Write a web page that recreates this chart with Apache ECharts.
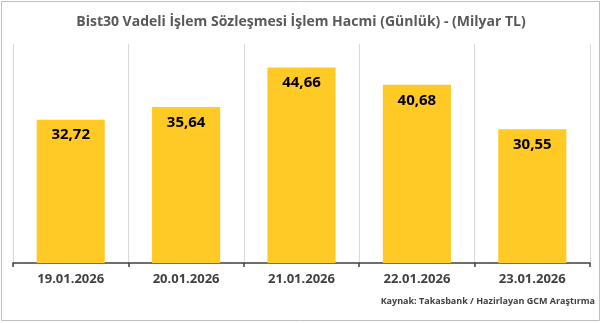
<!DOCTYPE html>
<html><head><meta charset="utf-8">
<script src="https://cdn.jsdelivr.net/npm/echarts@6/dist/echarts.min.js"></script>
<style>html,body{margin:0;padding:0;background:#fff}#c{width:602px;height:323px}</style>
</head><body><div id="c"></div>
<script>
const categories = ['19.01.2026','20.01.2026','21.01.2026','22.01.2026','23.01.2026'];
const values = [32.72, 35.64, 44.66, 40.68, 30.55];
const titleText = 'Bist30 Vadeli İşlem Sözleşmesi İşlem Hacmi (Günlük) - (Milyar TL)';
const sourceText = 'Kaynak: Takasbank / Hazirlayan GCM Araştırma';

const chart = echarts.init(document.getElementById('c'), null, {renderer:'canvas'});
chart.setOption({
  animation: false,
  backgroundColor: '#fff',
  title: {
    text: titleText, left: 'center', top: 10,
    textStyle: {fontFamily: 'Open Sans', fontWeight: 'bold', fontSize: 14, color: '#595959'}
  },
  graphic: [
    {type:'rect', shape:{x:1.5,y:1.5,width:598,height:319}, style:{fill:'none', stroke:'#bfbfbf', lineWidth:1}},
    {type:'text', right: 7, top: 297, style:{text: sourceText, font: 'bold 9px "Open Sans"', fill:'#404040'}}
  ],
  grid: {left: 13, right: 12, top: 44, bottom: 60},
  xAxis: {
    type: 'category', data: categories,
    axisLine: {lineStyle: {color: '#404040', width: 1.5}},
    axisTick: {show: true, length: 4, lineStyle: {color: '#404040', width: 1.5}},
    splitLine: {show: true, lineStyle: {color: '#d9d9d9', width: 1}},
    axisLabel: {margin: 10, fontFamily: 'Open Sans', fontWeight: 'bold', fontSize: 13, color: '#404040'}
  },
  yAxis: {type: 'value', min: 0, max: 50, show: false, splitLine:{show:false}},
  series: [{
    type: 'bar', data: values, barWidth: '59%',
    itemStyle: {color: '#FFC926'},
    label: {show: true, position: 'insideTop', distance: 8,
      formatter: p => p.value.toFixed(2).replace('.', ','),
      fontFamily: 'Open Sans', fontWeight: 'bold', fontSize: 15, color: '#000'}
  }]
});
</script></body></html>
